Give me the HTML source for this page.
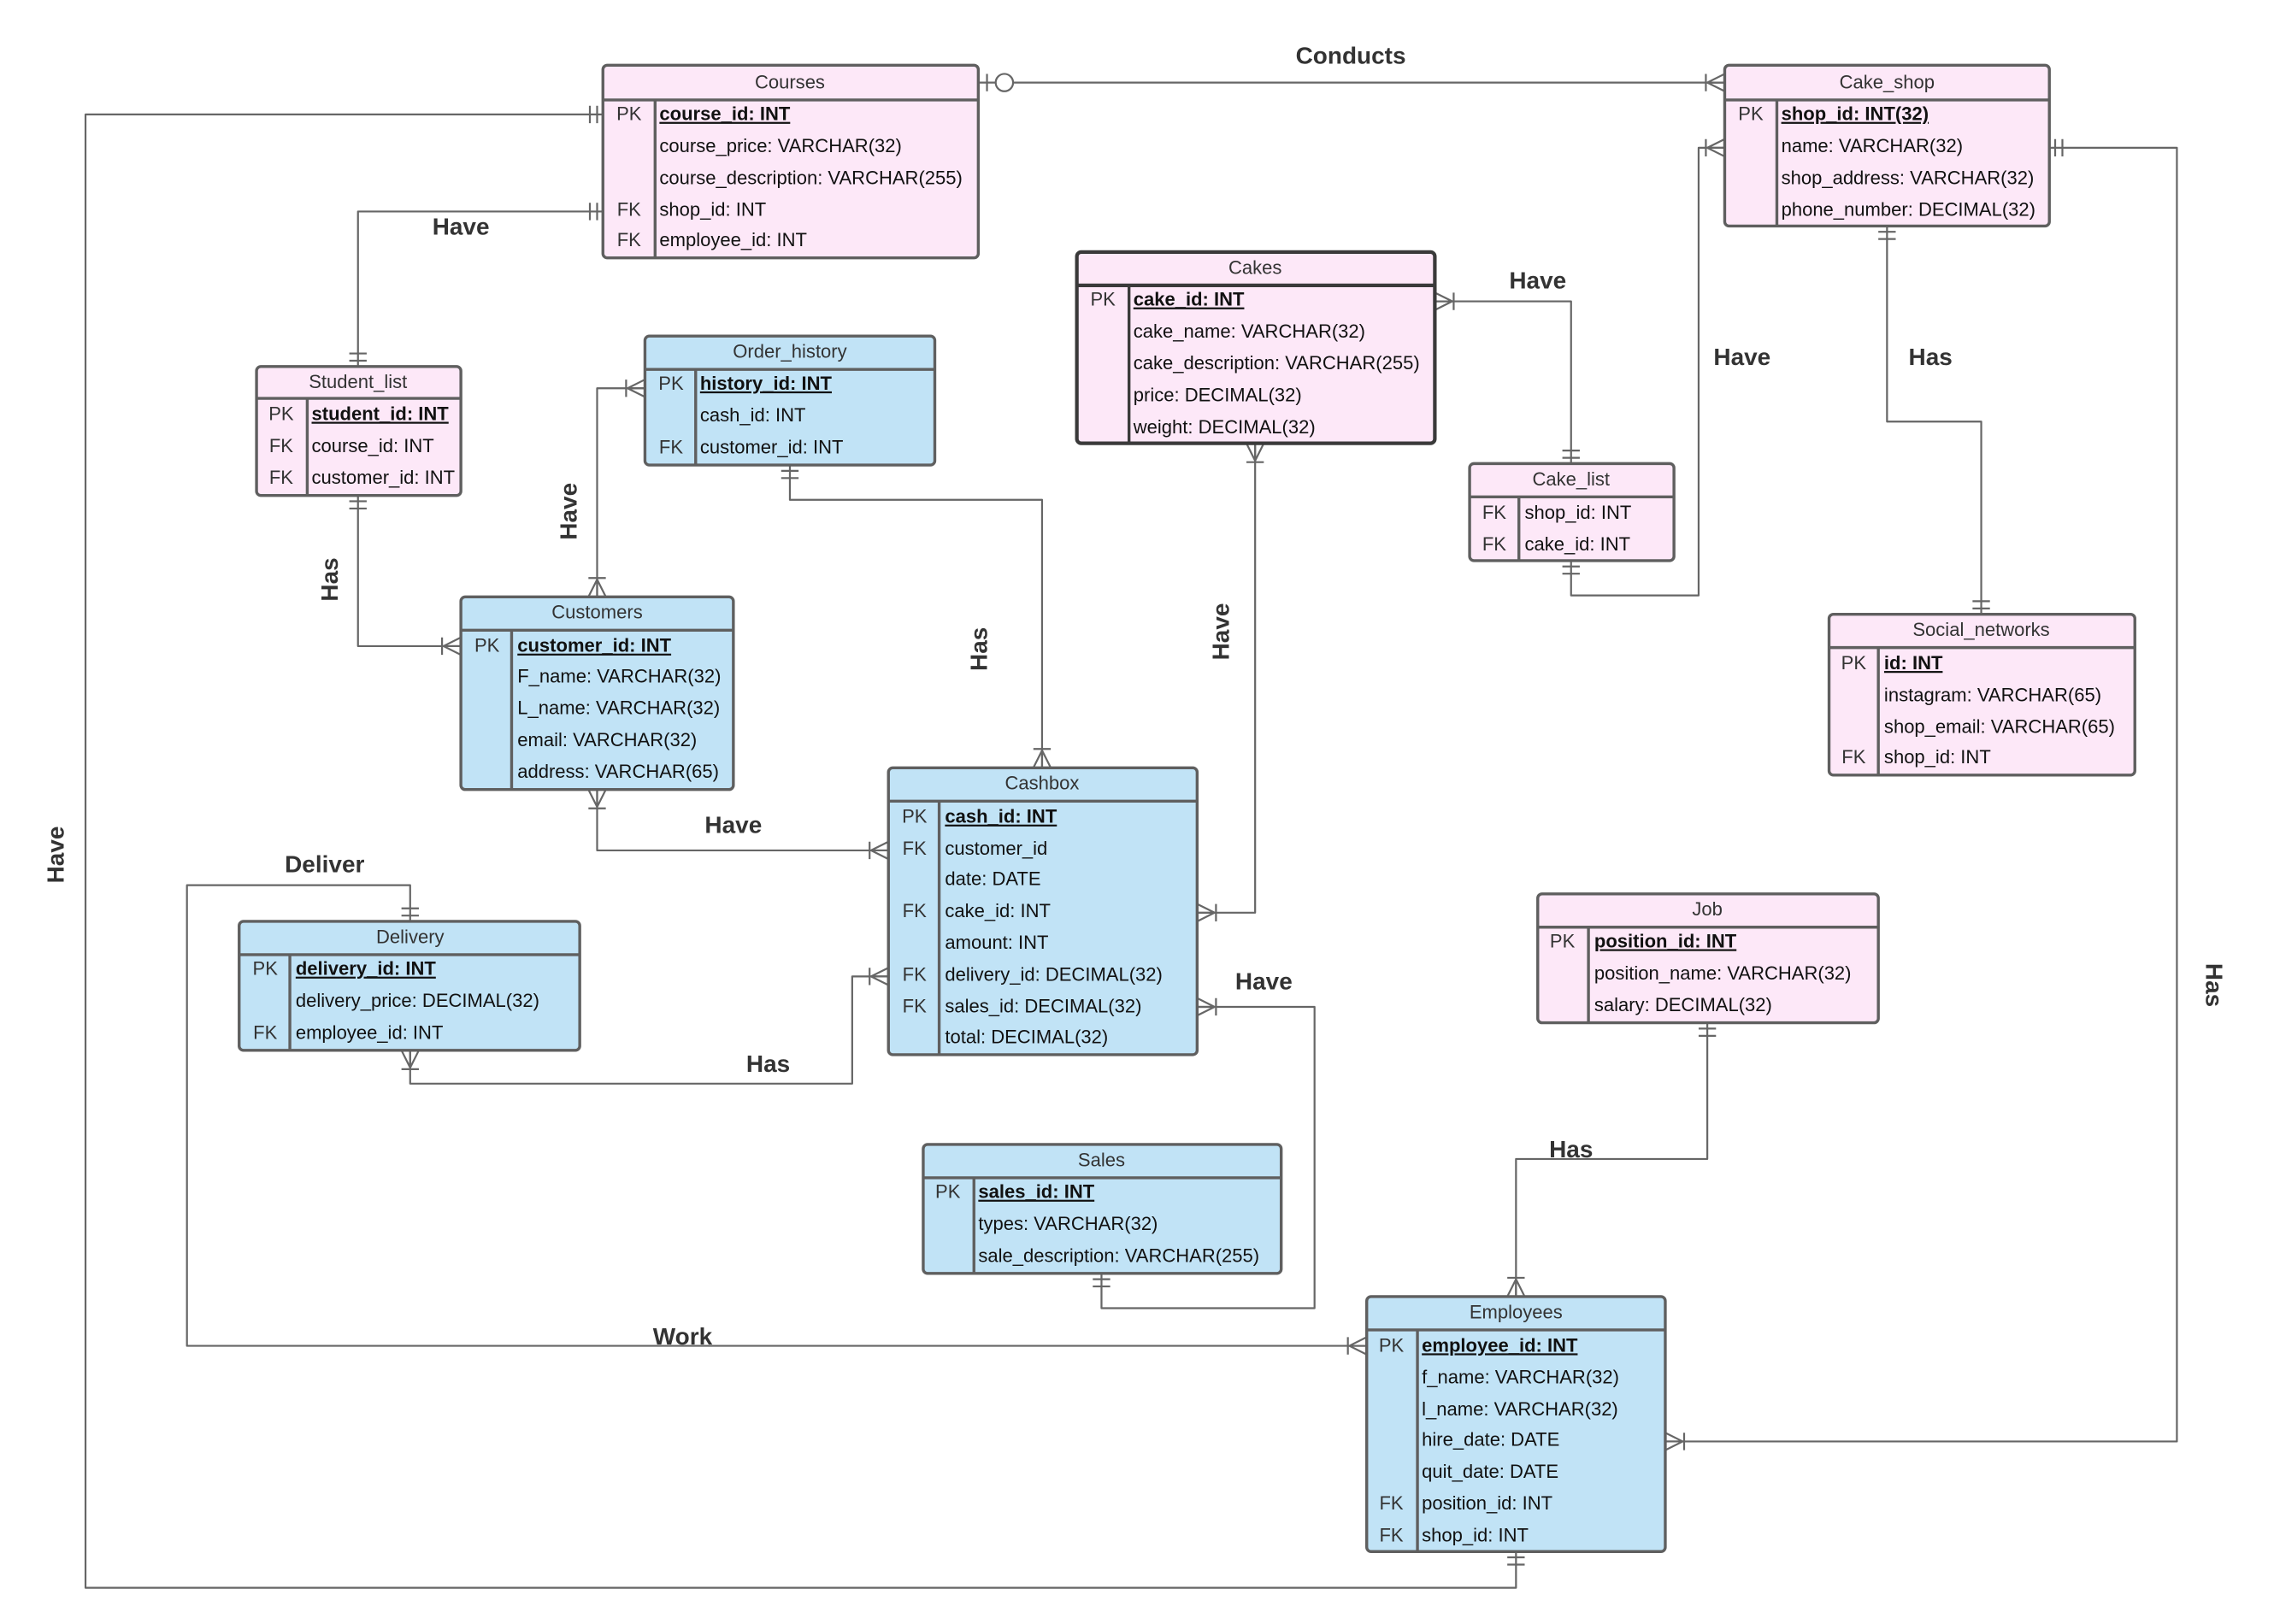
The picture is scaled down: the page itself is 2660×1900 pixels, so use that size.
<!DOCTYPE html>
<html><head><meta charset="utf-8"><style>
html,body{margin:0;padding:0;background:#fff}
svg{display:block}
text{font-family:"Liberation Sans",Arial,sans-serif}
.t{font-size:13px;fill:#111}
.k{font-size:13px;fill:#333;text-anchor:middle}
.h{font-size:13px;fill:#333;text-anchor:middle}
.b{font-weight:bold;text-decoration:underline}
.l{font-size:16.5px;font-weight:bold;fill:#333}
.c{fill:none;stroke:#666;stroke-width:1.3;stroke-linejoin:round}
.p{fill:#fde8f8;stroke:#5f5f5f;stroke-width:2}
.u{fill:#c1e3f6;stroke:#5f5f5f;stroke-width:2}
.d{stroke:#5f5f5f;stroke-width:2}
</style></head><body>
<svg width="2660" height="1900" viewBox="0 0 1569 1121" preserveAspectRatio="none" xmlns="http://www.w3.org/2000/svg">
<defs>
<marker id="cr" markerUnits="userSpaceOnUse" markerWidth="30" markerHeight="20" viewBox="-20 -10 30 20" refX="0" refY="0" orient="auto-start-reverse">
<path d="M-12,0 L0,-6 M-12,0 L0,0 M-12,0 L0,6 M-13,-6 L-13,6" fill="none" stroke="#666" stroke-width="1.3"/>
</marker>
<marker id="db" markerUnits="userSpaceOnUse" markerWidth="30" markerHeight="20" viewBox="-20 -10 30 20" refX="0" refY="0" orient="auto-start-reverse">
<path d="M-4,-6 L-4,6 M-9,-6 L-9,6" fill="none" stroke="#666" stroke-width="1.3"/>
</marker>
<marker id="oz" markerUnits="userSpaceOnUse" markerWidth="40" markerHeight="20" viewBox="-30 -10 40 20" refX="0" refY="0" orient="auto-start-reverse">
<path d="M-6,-6 L-6,6" fill="none" stroke="#666" stroke-width="1.3"/>
<circle cx="-18" cy="0" r="6" fill="#fff" stroke="#666" stroke-width="1.3"/>
</marker>
</defs>

<!-- connectors -->
<path class="c" d="M675,57 L1190,57" marker-start="url(#oz)" marker-end="url(#cr)"/>
<path class="c" d="M416,79 L59,79 L59,1096 L1046,1096 L1046,1071" marker-start="url(#db)" marker-end="url(#db)"/>
<path class="c" d="M416,146 L247,146 L247,253" marker-start="url(#db)" marker-end="url(#db)"/>
<path class="c" d="M247,342 L247,446 L318,446" marker-start="url(#db)" marker-end="url(#cr)"/>
<path class="c" d="M412,412 L412,268 L445,268" marker-start="url(#cr)" marker-end="url(#cr)"/>
<path class="c" d="M545,321 L545,345 L719,345 L719,530" marker-start="url(#db)" marker-end="url(#cr)"/>
<path class="c" d="M412,545 L412,587 L613,587" marker-start="url(#cr)" marker-end="url(#cr)"/>
<path class="c" d="M283,636 L283,611 L129,611 L129,929 L943,929" marker-start="url(#db)" marker-end="url(#cr)"/>
<path class="c" d="M283,725 L283,748 L588,748 L588,674 L613,674" marker-start="url(#cr)" marker-end="url(#cr)"/>
<path class="c" d="M866,306 L866,630 L826,630" marker-start="url(#cr)" marker-end="url(#cr)"/>
<path class="c" d="M990,208 L1084,208 L1084,320" marker-start="url(#cr)" marker-end="url(#db)"/>
<path class="c" d="M1084,387 L1084,411 L1172,411 L1172,102 L1190,102" marker-start="url(#db)" marker-end="url(#cr)"/>
<path class="c" d="M1302,156 L1302,291 L1367,291 L1367,424" marker-start="url(#db)" marker-end="url(#db)"/>
<path class="c" d="M1414,102 L1502,102 L1502,995 L1149,995" marker-start="url(#db)" marker-end="url(#cr)"/>
<path class="c" d="M1178,706 L1178,800 L1046,800 L1046,895" marker-start="url(#db)" marker-end="url(#cr)"/>
<path class="c" d="M760,879 L760,903 L907,903 L907,695 L826,695" marker-start="url(#db)" marker-end="url(#cr)"/>

<!-- labels -->
<text class="l" x="932" y="44" text-anchor="middle">Conducts</text>
<text class="l" x="318" y="162" text-anchor="middle">Have</text>
<text class="l" x="1061" y="199" text-anchor="middle">Have</text>
<text class="l" x="1202" y="252" text-anchor="middle">Have</text>
<text class="l" x="1332" y="252" text-anchor="middle">Has</text>
<text class="l" x="506" y="575" text-anchor="middle">Have</text>
<text class="l" x="224" y="602" text-anchor="middle">Deliver</text>
<text class="l" x="530" y="740" text-anchor="middle">Has</text>
<text class="l" x="872" y="683" text-anchor="middle">Have</text>
<text class="l" x="1084" y="799" text-anchor="middle">Has</text>
<text class="l" x="471" y="928" text-anchor="middle">Work</text>
<text class="l" transform="translate(44,590) rotate(-90)" text-anchor="middle">Have</text>
<text class="l" transform="translate(233,400) rotate(-90)" text-anchor="middle">Has</text>
<text class="l" transform="translate(398,353) rotate(-90)" text-anchor="middle">Have</text>
<text class="l" transform="translate(681,448) rotate(-90)" text-anchor="middle">Has</text>
<text class="l" transform="translate(848,436) rotate(-90)" text-anchor="middle">Have</text>
<text class="l" transform="translate(1522,680) rotate(90)" text-anchor="middle">Has</text>

<!-- Courses -->
<rect class="p" x="416" y="45" width="259" height="133" rx="3"/>
<line class="d" x1="416" y1="69" x2="675" y2="69"/><line class="d" x1="452" y1="69" x2="452" y2="178"/>
<text class="h" x="545" y="61">Courses</text>
<text class="k" x="434" y="83">PK</text><text class="t b" x="455" y="83">course_id: INT</text>
<text class="t" x="455" y="105">course_price: VARCHAR(32)</text>
<text class="t" x="455" y="127">course_description: VARCHAR(255)</text>
<text class="k" x="434" y="149">FK</text><text class="t" x="455" y="149">shop_id: INT</text>
<text class="k" x="434" y="170">FK</text><text class="t" x="455" y="170">employee_id: INT</text>

<!-- Cake_shop -->
<rect class="p" x="1190" y="45" width="224" height="111" rx="3"/>
<line class="d" x1="1190" y1="69" x2="1414" y2="69"/><line class="d" x1="1226" y1="69" x2="1226" y2="156"/>
<text class="h" x="1302" y="61">Cake_shop</text>
<text class="k" x="1208" y="83">PK</text><text class="t b" x="1229" y="83">shop_id: INT(32)</text>
<text class="t" x="1229" y="105">name: VARCHAR(32)</text>
<text class="t" x="1229" y="127">shop_address: VARCHAR(32)</text>
<text class="t" x="1229" y="149">phone_number: DECIMAL(32)</text>

<!-- Cakes -->
<rect class="p" x="743" y="174" width="247" height="132" rx="3" style="stroke:#3a3a3a;stroke-width:2.5"/>
<line class="d" x1="743" y1="197" x2="990" y2="197" style="stroke:#3a3a3a;stroke-width:2.5"/><line class="d" x1="779" y1="197" x2="779" y2="306" style="stroke:#3a3a3a"/>
<text class="h" x="866" y="189">Cakes</text>
<text class="k" x="761" y="211">PK</text><text class="t b" x="782" y="211">cake_id: INT</text>
<text class="t" x="782" y="233">cake_name: VARCHAR(32)</text>
<text class="t" x="782" y="255">cake_description: VARCHAR(255)</text>
<text class="t" x="782" y="277">price: DECIMAL(32)</text>
<text class="t" x="782" y="299">weight: DECIMAL(32)</text>

<!-- Student_list -->
<rect class="p" x="177" y="253" width="141" height="89" rx="3"/>
<line class="d" x1="177" y1="275" x2="318" y2="275"/><line class="d" x1="212" y1="275" x2="212" y2="342"/>
<text class="h" x="247" y="268">Student_list</text>
<text class="k" x="194" y="290">PK</text><text class="t b" x="215" y="290">student_id: INT</text>
<text class="k" x="194" y="312">FK</text><text class="t" x="215" y="312">course_id: INT</text>
<text class="k" x="194" y="334">FK</text><text class="t" x="215" y="334">customer_id: INT</text>

<!-- Order_history -->
<rect class="u" x="445" y="232" width="200" height="89" rx="3"/>
<line class="d" x1="445" y1="255" x2="645" y2="255"/><line class="d" x1="480" y1="255" x2="480" y2="321"/>
<text class="h" x="545" y="247">Order_history</text>
<text class="k" x="463" y="269">PK</text><text class="t b" x="483" y="269">history_id: INT</text>
<text class="t" x="483" y="291">cash_id: INT</text>
<text class="k" x="463" y="313">FK</text><text class="t" x="483" y="313">customer_id: INT</text>

<!-- Cake_list -->
<rect class="p" x="1014" y="320" width="141" height="67" rx="3"/>
<line class="d" x1="1014" y1="343" x2="1155" y2="343"/><line class="d" x1="1048" y1="343" x2="1048" y2="387"/>
<text class="h" x="1084" y="335">Cake_list</text>
<text class="k" x="1031" y="358">FK</text><text class="t" x="1052" y="358">shop_id: INT</text>
<text class="k" x="1031" y="380">FK</text><text class="t" x="1052" y="380">cake_id: INT</text>

<!-- Social_networks -->
<rect class="p" x="1262" y="424" width="211" height="111" rx="3"/>
<line class="d" x1="1262" y1="447" x2="1473" y2="447"/><line class="d" x1="1296" y1="447" x2="1296" y2="535"/>
<text class="h" x="1367" y="439">Social_networks</text>
<text class="k" x="1279" y="462">PK</text><text class="t b" x="1300" y="462">id: INT</text>
<text class="t" x="1300" y="484">instagram: VARCHAR(65)</text>
<text class="t" x="1300" y="506">shop_email: VARCHAR(65)</text>
<text class="k" x="1279" y="527">FK</text><text class="t" x="1300" y="527">shop_id: INT</text>

<!-- Customers -->
<rect class="u" x="318" y="412" width="188" height="133" rx="3"/>
<line class="d" x1="318" y1="435" x2="506" y2="435"/><line class="d" x1="353" y1="435" x2="353" y2="545"/>
<text class="h" x="412" y="427">Customers</text>
<text class="k" x="336" y="450">PK</text><text class="t b" x="357" y="450">customer_id: INT</text>
<text class="t" x="357" y="471">F_name: VARCHAR(32)</text>
<text class="t" x="357" y="493">L_name: VARCHAR(32)</text>
<text class="t" x="357" y="515">email: VARCHAR(32)</text>
<text class="t" x="357" y="537">address: VARCHAR(65)</text>

<!-- Cashbox -->
<rect class="u" x="613" y="530" width="213" height="198" rx="3"/>
<line class="d" x1="613" y1="553" x2="826" y2="553"/><line class="d" x1="648" y1="553" x2="648" y2="728"/>
<text class="h" x="719" y="545">Cashbox</text>
<text class="k" x="631" y="568">PK</text><text class="t b" x="652" y="568">cash_id: INT</text>
<text class="k" x="631" y="590">FK</text><text class="t" x="652" y="590">customer_id</text>
<text class="t" x="652" y="611">date: DATE</text>
<text class="k" x="631" y="633">FK</text><text class="t" x="652" y="633">cake_id: INT</text>
<text class="t" x="652" y="655">amount: INT</text>
<text class="k" x="631" y="677">FK</text><text class="t" x="652" y="677">delivery_id: DECIMAL(32)</text>
<text class="k" x="631" y="699">FK</text><text class="t" x="652" y="699">sales_id: DECIMAL(32)</text>
<text class="t" x="652" y="720">total: DECIMAL(32)</text>

<!-- Delivery -->
<rect class="u" x="165" y="636" width="235" height="89" rx="3"/>
<line class="d" x1="165" y1="659" x2="400" y2="659"/><line class="d" x1="200" y1="659" x2="200" y2="725"/>
<text class="h" x="283" y="651">Delivery</text>
<text class="k" x="183" y="673">PK</text><text class="t b" x="204" y="673">delivery_id: INT</text>
<text class="t" x="204" y="695">delivery_price: DECIMAL(32)</text>
<text class="k" x="183" y="717">FK</text><text class="t" x="204" y="717">employee_id: INT</text>

<!-- Job -->
<rect class="p" x="1061" y="617" width="235" height="89" rx="3"/>
<line class="d" x1="1061" y1="640" x2="1296" y2="640"/><line class="d" x1="1096" y1="640" x2="1096" y2="706"/>
<text class="h" x="1178" y="632">Job</text>
<text class="k" x="1078" y="654">PK</text><text class="t b" x="1100" y="654">position_id: INT</text>
<text class="t" x="1100" y="676">position_name: VARCHAR(32)</text>
<text class="t" x="1100" y="698">salary: DECIMAL(32)</text>

<!-- Sales -->
<rect class="u" x="637" y="790" width="247" height="89" rx="3"/>
<line class="d" x1="637" y1="813" x2="884" y2="813"/><line class="d" x1="672" y1="813" x2="672" y2="879"/>
<text class="h" x="760" y="805">Sales</text>
<text class="k" x="654" y="827">PK</text><text class="t b" x="675" y="827">sales_id: INT</text>
<text class="t" x="675" y="849">types: VARCHAR(32)</text>
<text class="t" x="675" y="871">sale_description: VARCHAR(255)</text>

<!-- Employees -->
<rect class="u" x="943" y="895" width="206" height="176" rx="3"/>
<line class="d" x1="943" y1="918" x2="1149" y2="918"/><line class="d" x1="978" y1="918" x2="978" y2="1071"/>
<text class="h" x="1046" y="910">Employees</text>
<text class="k" x="960" y="933">PK</text><text class="t b" x="981" y="933">employee_id: INT</text>
<text class="t" x="981" y="955">f_name: VARCHAR(32)</text>
<text class="t" x="981" y="977">l_name: VARCHAR(32)</text>
<text class="t" x="981" y="998">hire_date: DATE</text>
<text class="t" x="981" y="1020">quit_date: DATE</text>
<text class="k" x="960" y="1042">FK</text><text class="t" x="981" y="1042">position_id: INT</text>
<text class="k" x="960" y="1064">FK</text><text class="t" x="981" y="1064">shop_id: INT</text>
</svg>
</body></html>
